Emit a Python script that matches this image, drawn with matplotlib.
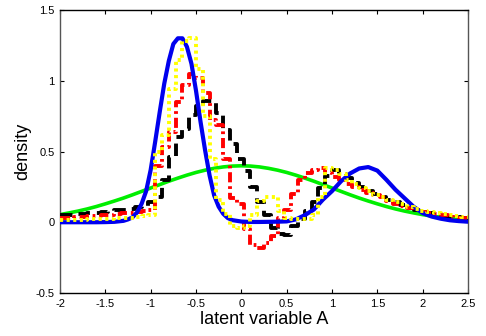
import numpy as np
import matplotlib
matplotlib.use("Agg")
import matplotlib.pyplot as plt

plt.rcParams['font.family'] = ['Liberation Sans', 'DejaVu Sans']

# ---- data ----
blue_x = [-2.0, -1.8, -1.6, -1.5, -1.4, -1.3, -1.25, -1.2, -1.15, -1.1, -1.05, -1.0, -0.95, -0.9,
          -0.85, -0.8, -0.75, -0.7, -0.65, -0.6, -0.55, -0.5, -0.45, -0.4, -0.35, -0.3, -0.25,
          -0.2, -0.15, -0.1, 0.0, 0.1, 0.2, 0.3, 0.4, 0.5, 0.6, 0.7, 0.8, 0.9, 1.0, 1.1, 1.2,
          1.3, 1.4, 1.5, 1.6, 1.7, 1.8, 1.9, 2.0, 2.1, 2.2, 2.3, 2.4, 2.5]
blue_y = [0.0, 0.0, 0.0, 0.001, 0.003, 0.01, 0.02, 0.035, 0.07, 0.13, 0.22, 0.37, 0.57, 0.78,
          0.98, 1.14, 1.26, 1.30, 1.30, 1.24, 1.12, 0.93, 0.71, 0.51, 0.33, 0.19, 0.11,
          0.06, 0.03, 0.015, 0.005, 0.002, 0.002, 0.003, 0.004, 0.006, 0.02, 0.05, 0.09, 0.16, 0.22, 0.29, 0.345,
          0.38, 0.39, 0.365, 0.30, 0.23, 0.17, 0.11, 0.065, 0.04, 0.025, 0.014, 0.008, 0.004]

green_x = [-2.0, -1.9, -1.8, -1.7, -1.6, -1.5, -1.4, -1.3, -1.2, -1.1, -1.0, -0.9, -0.8, -0.7,
           -0.6, -0.5, -0.4, -0.3, -0.2, -0.1, 0.0, 0.1, 0.2, 0.3, 0.4, 0.5, 0.6, 0.7, 0.8, 0.9,
           1.0, 1.1, 1.2, 1.3, 1.4, 1.5, 1.6, 1.7, 1.8, 1.9, 2.0, 2.1, 2.2, 2.3, 2.4, 2.5]
green_y = [0.054, 0.066, 0.079, 0.094, 0.111, 0.130, 0.150, 0.171, 0.194, 0.218, 0.242, 0.266,
           0.290, 0.312, 0.333, 0.352, 0.368, 0.381, 0.391, 0.397, 0.399, 0.397, 0.391, 0.381,
           0.368, 0.352, 0.333, 0.312, 0.290, 0.266, 0.242, 0.218, 0.194, 0.171, 0.150, 0.130,
           0.111, 0.094, 0.079, 0.066, 0.054, 0.044, 0.036, 0.028, 0.022, 0.018]

step_x = [-2.0, -1.925, -1.85, -1.775, -1.7, -1.625, -1.55, -1.475, -1.4, -1.325, -1.25, -1.175,
          -1.1, -1.025, -0.95, -0.875, -0.8, -0.725, -0.65, -0.575, -0.5, -0.425, -0.35, -0.275,
          -0.2, -0.125, -0.05, 0.025, 0.1, 0.175, 0.25, 0.325, 0.4, 0.475, 0.55, 0.625, 0.7,
          0.775, 0.85, 0.925, 1.0, 1.075, 1.15, 1.225, 1.3, 1.375, 1.45, 1.525, 1.6, 1.675, 1.75,
          1.825, 1.9, 1.975, 2.05, 2.125, 2.2, 2.275, 2.35, 2.425, 2.5]
black_y = [0.05, 0.053, 0.056, 0.06, 0.064, 0.068, 0.073, 0.078, 0.084, 0.09, 0.097, 0.105,
           0.115, 0.14, 0.18, 0.30, 0.46, 0.60, 0.66, 0.76, 0.82, 0.86, 0.86, 0.77,
           0.65, 0.55, 0.45, 0.36, 0.25, 0.14, 0.05, -0.04, -0.08, -0.09, -0.03, 0.02, 0.08,
           0.14, 0.24, 0.33, 0.37, 0.34, 0.31, 0.28, 0.25, 0.22, 0.20, 0.18, 0.16, 0.14, 0.12,
           0.10, 0.09, 0.075, 0.062, 0.053, 0.045, 0.04, 0.035, 0.03, 0.03]
red_y = [0.03, 0.032, 0.035, 0.038, 0.041, 0.045, 0.049, 0.053, 0.058, 0.063, 0.068, 0.074,
         0.08, 0.09, 0.40, 0.53, 0.64, 0.85, 0.97, 1.05, 1.02, 0.91, 0.72, 0.69,
         0.45, 0.17, 0.13, -0.05, -0.16, -0.18, -0.15, -0.10, 0.03, 0.09, 0.20, 0.30, 0.35,
         0.37, 0.38, 0.35, 0.32, 0.30, 0.27, 0.25, 0.23, 0.21, 0.19, 0.175, 0.15, 0.13, 0.115,
         0.10, 0.085, 0.075, 0.065, 0.055, 0.048, 0.04, 0.033, 0.028, 0.028]
yellow_y = [0.015, 0.016, 0.017, 0.018, 0.02, 0.021, 0.023, 0.025, 0.027, 0.03, 0.033, 0.037,
            0.042, 0.05, 0.50, 0.62, 0.94, 1.15, 1.28, 1.30, 1.08, 0.75, 0.45, 0.16,
            0.06, -0.03, -0.04, -0.03, 0.05, 0.15, 0.18, 0.18, 0.08, 0.03, 0.025, 0.02, 0.02,
            0.05, 0.18, 0.38, 0.37, 0.34, 0.30, 0.27, 0.24, 0.22, 0.19, 0.18, 0.16, 0.145, 0.13,
            0.11, 0.095, 0.08, 0.075, 0.065, 0.055, 0.05, 0.045, 0.04, 0.04]

x_ticks = [-2, -1.5, -1, -0.5, 0, 0.5, 1, 1.5, 2, 2.5]
x_tick_labels = ['-2', '-1.5', '-1', '-0.5', '0', '0.5', '1', '1.5', '2', '2.5']
y_ticks = [-0.5, 0, 0.5, 1, 1.5]
y_tick_labels = ['-0.5', '0', '0.5', '1', '1.5']

# ---- figure ----
fig = plt.figure(figsize=(4.86, 3.36), dpi=100)
ax = fig.add_axes([60/486, 1-293/336, 408/486, 283/336])

lw = 2.8
ax.plot(green_x, green_y, color='#00ee00', lw=2.6, zorder=2)
ax.plot(step_x, black_y, color='black', lw=lw, drawstyle='steps-post',
        dashes=(3.2, 1.8), zorder=3)
ax.plot(step_x, red_y, color='#ff0000', lw=lw, drawstyle='steps-post',
        dashes=(2.6, 1.0, 0.7, 1.0), zorder=4)
ax.plot(blue_x, blue_y, color='#0000ee', lw=3.0, zorder=5)
ax.plot(step_x, yellow_y, color='#ffff00', lw=lw, drawstyle='steps-post',
        dashes=(0.8, 0.9), zorder=6)

ax.set_xlim(-2, 2.5)
ax.set_ylim(-0.5, 1.5)
ax.set_xticks(x_ticks)
ax.set_xticklabels(x_tick_labels)
ax.set_yticks(y_ticks)
ax.set_yticklabels(y_tick_labels)
ax.tick_params(direction='in', length=3, width=0.8, labelsize=8, top=True, right=True,
               pad=4, colors='black')
for s in ['left', 'right']:
    ax.spines[s].set_color('#555555')
for s in ax.spines.values():
    s.set_linewidth(1.0)

ax.set_xlabel('latent variable A', fontsize=13, labelpad=2)
ax.set_ylabel('density', fontsize=13, labelpad=3)

fig.savefig('out.png', dpi=100)
